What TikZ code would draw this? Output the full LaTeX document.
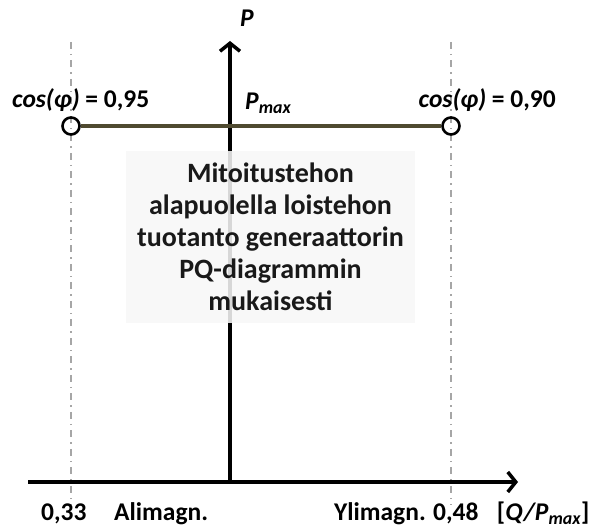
\documentclass[tikz,border=0pt]{standalone}
\usepackage{fontspec}
\setmainfont{Carlito}
\usetikzlibrary{arrows.meta}
\begin{document}
\begin{tikzpicture}[x=1pt,y=-1pt,
  axisline/.style={line width=3.5pt, line cap=butt, -{Straight Barb[length=8pt,width=20pt,line width=3.5pt]}},
  guide/.style={black!35, line width=1.2pt, dash pattern=on 7pt off 5pt on 1.5pt off 5pt},
  marker/.style={circle, draw=black, line width=2.6pt, minimum size=17pt, inner sep=0pt},
  lbl/.style={font=\bfseries\fontsize{25.5}{30}\selectfont, inner sep=0pt, text=black},
  note/.style={fill=black!3, fill opacity=0.87, text opacity=1, minimum width=289pt, minimum height=172pt,
    inner sep=0pt, align=center, font=\bfseries\fontsize{28}{32}\selectfont, text=black!90},
]
\useasboundingbox (0,0) rectangle (590,526);
% guides
\coordinate (gLt) at (71,42);
\coordinate (gLb) at (71,505);
\coordinate (gRt) at (451,42);
\coordinate (gRb) at (451,505);
\draw[guide] (gLt) -- (gLb);
\draw[guide] (gRt) -- (gRb);
% axes
\coordinate (origin) at (230,482);
\coordinate (ytip) at (230,41);
\coordinate (xstart) at (28,482);
\coordinate (xtip) at (518,482);
\draw[axisline] (origin) -- (ytip);
\draw[axisline] (xstart) -- (xtip);
% Pmax line
\node[marker] (c1) at (71,126) {};
\node[marker] (c2) at (451,126) {};
\draw[line width=3.5pt, draw={rgb,255:red,79;green,74;blue,48}] (c1) -- (c2);
% note box
\node[note] (box) at (270.5,237) {Mitoitustehon\\alapuolella loistehon\\tuotanto generaattorin\\PQ-diagrammin\\mukaisesti};
% labels
\node[lbl, anchor=base west] (cos1) at (12,108) {\itshape cos(φ)\upshape{} = 0,95};
\node[lbl, anchor=base east] (cos2) at (556,108) {\itshape cos(φ)\upshape{} = 0,90};
\node[lbl, anchor=base west] (pmax) at (245,110) {\itshape P\textsubscript{max}};
\node[lbl, anchor=base west] (plab) at (240,27) {\itshape P};
\node[lbl, anchor=base west] (q1) at (41,520.5) {0,33};
\node[lbl, anchor=base west] (ali) at (114,520.5) {Alimagn.};
\node[lbl, anchor=base east] (yli) at (426,520.5) {Ylimagn.};
\node[lbl, anchor=base west] (q2) at (433,520.5) {0,48};
\node[lbl, anchor=base east] (unit) at (589.5,520.5) {[\itshape Q/P\textsubscript{max}\upshape]};
\end{tikzpicture}
\end{document}
